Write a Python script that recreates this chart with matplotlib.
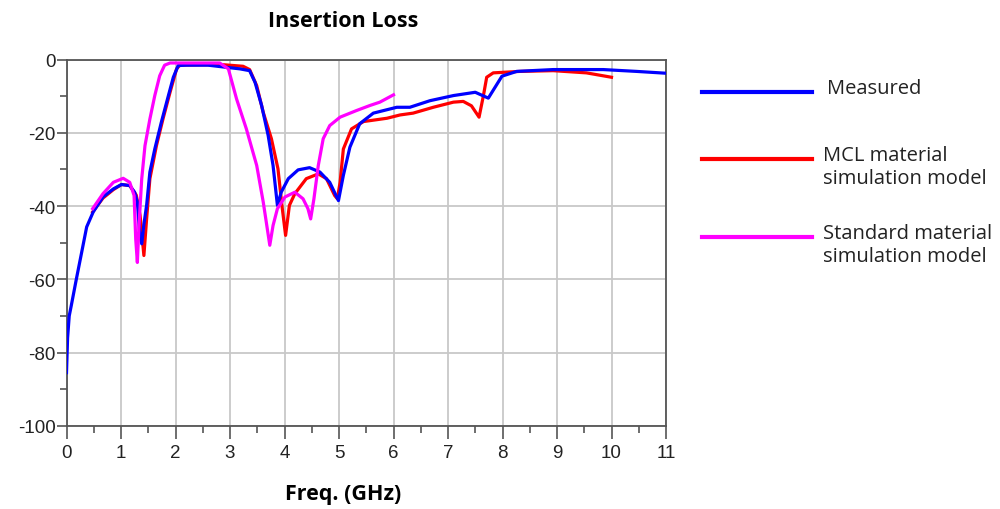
import matplotlib
matplotlib.use('Agg')
import matplotlib.pyplot as plt
from matplotlib.lines import Line2D
from matplotlib.ticker import MultipleLocator

# Measured
meas_freq = [0.0, 0.02, 0.05, 0.09, 0.18, 0.28, 0.37, 0.49, 0.67, 0.86, 1.01,
             1.16, 1.25, 1.30, 1.34, 1.38, 1.42, 1.47, 1.53, 1.62, 1.74, 1.87,
             1.96, 2.05, 2.2, 2.6, 2.94, 3.18, 3.36, 3.46, 3.58, 3.70, 3.79,
             3.87, 3.94, 4.07, 4.25, 4.46, 4.65, 4.83, 4.99, 5.08, 5.20, 5.38,
             5.63, 6.06, 6.30, 6.67, 7.10, 7.50, 7.74, 7.99, 8.26, 8.93, 9.85,
             10.46, 11.0]
meas_db = [-85.5, -76, -70, -67, -60, -52.5, -45.7, -41.6, -37.5, -35.3, -34.1,
           -34.4, -36.2, -38.9, -47, -50.3, -45, -39.8, -30.7, -24.4, -17.1,
           -9.8, -4.8, -1.6, -1.5, -1.5, -2.1, -2.5, -3.0, -6.2, -12.5, -20.7,
           -28.9, -39.8, -36.2, -32.5, -30.1, -29.5, -30.7, -33.5, -38.5,
           -31.6, -23.9, -17.5, -14.6, -13.0, -13.0, -11.2, -9.8, -8.9, -10.5,
           -4.5, -3.2, -2.7, -2.7, -3.2, -3.7]

# MCL material simulation model
mcl_freq = [0.48, 0.67, 0.86, 1.01, 1.16, 1.28, 1.35, 1.42, 1.47, 1.53, 1.65,
            1.77, 1.90, 2.02, 2.08, 2.5, 2.9, 3.24, 3.36, 3.49, 3.61, 3.76,
            3.88, 3.96, 4.02, 4.09, 4.19, 4.40, 4.62, 4.77, 4.92, 4.97, 5.02,
            5.08, 5.23, 5.45, 5.88, 6.12, 6.36, 6.73, 7.10, 7.28, 7.43, 7.57,
            7.65, 7.71, 7.83, 8.32, 8.93, 9.54, 10.0]
mcl_db = [-41.6, -37.8, -35.5, -34.1, -34.4, -37, -42.5, -53.5, -43.5, -32.5,
          -23.5, -16.2, -8.9, -2.5, -1.5, -1.4, -1.4, -1.8, -2.7, -7.1, -14.4,
          -21.6, -29.8, -40.7, -48, -39.8, -36.6, -32.5, -31.2, -32.5, -37.1,
          -38, -33.5, -24.4, -18.9, -16.9, -16.0, -15.1, -14.6, -13.0, -11.6,
          -11.4, -12.6, -15.7, -9.8, -4.8, -3.6, -3.2, -3.0, -3.6, -4.8]

# Standard material simulation model
std_freq = [0.48, 0.67, 0.86, 1.04, 1.16, 1.24, 1.27, 1.30, 1.33, 1.38, 1.44,
            1.53, 1.62, 1.71, 1.80, 1.90, 2.4, 2.81, 2.97, 3.12, 3.30, 3.49,
            3.61, 3.73, 3.79, 3.87, 4.01, 4.19, 4.34, 4.43, 4.48, 4.54, 4.62,
            4.71, 4.83, 5.02, 5.32, 5.57, 5.75, 6.0]
std_db = [-40.7, -36.6, -33.5, -32.4, -33.5, -37.1, -49, -55.4, -45.3, -32.6,
          -23.5, -16.2, -9.8, -4.4, -1.5, -0.9, -0.9, -0.9, -2.5, -10.7, -18.9,
          -28.9, -38.9, -50.7, -45.3, -40.7, -37.5, -36.2, -38.0, -40.7, -43.5,
          -38, -28.9, -21.6, -18, -15.7, -13.9, -12.5, -11.6, -9.6]

series_labels = ['Measured', 'MCL material\nsimulation model',
                 'Standard material\nsimulation model']
series_colors = ['#0000ff', '#ff0000', '#ff00ff']


def main():
    plt.rcParams['font.family'] = 'Liberation Sans'
    plt.rcParams['axes.unicode_minus'] = False

    fig = plt.figure(figsize=(10, 5.1), dpi=100)
    ax = fig.add_axes([0.0665, 0.1633, 0.5995, 0.7177])

    ax.plot(mcl_freq, mcl_db, color=series_colors[1], lw=2.3, zorder=3)
    ax.plot(meas_freq, meas_db, color=series_colors[0], lw=2.3, zorder=4)
    ax.plot(std_freq, std_db, color=series_colors[2], lw=2.3, zorder=5)

    ax.set_xlim(0, 11)
    ax.set_ylim(-100, 0)
    ax.xaxis.set_major_locator(MultipleLocator(1))
    ax.xaxis.set_minor_locator(MultipleLocator(0.5))
    ax.yaxis.set_major_locator(MultipleLocator(20))
    ax.yaxis.set_minor_locator(MultipleLocator(10))
    ax.grid(True, which='major', color='#c8c8c8', lw=1.3)
    ax.set_axisbelow(True)
    for spine in ax.spines.values():
        spine.set_color('#555555')
        spine.set_linewidth(1.3)
    ax.tick_params(which='major', length=7, width=1.2, color='#555555',
                   labelsize=13.5, labelcolor='#222222', pad=1)
    ax.tick_params(which='minor', length=5, width=1.2, color='#555555')
    ax.tick_params(axis='x', which='major', length=9, pad=4)

    fig.text(0.343, 0.957, 'Insertion Loss', ha='center', va='center',
             fontsize=15.5, fontweight='bold', family='Open Sans')
    fig.text(0.343, 0.03, 'Freq. (GHz)', ha='center', va='center',
             fontsize=15.5, fontweight='bold', family='Open Sans')

    # legend drawn by hand to match the layout (handle at first text line)
    legend_y = [93, 160, 238]
    text_x = [827, 823, 823]
    for lab, col, yy, tx in zip(series_labels, series_colors, legend_y,
                                text_x):
        yf = 1 - yy / 510
        fig.add_artist(Line2D([0.702, 0.812], [yf, yf], color=col, lw=3,
                              transform=fig.transFigure))
        fig.text(tx / 1000, yf + 0.028, lab, ha='left', va='top',
                 fontsize=14.5, family='Open Sans', color='#222222',
                 linespacing=1.25)

    fig.savefig('out.png', dpi=100)


if __name__ == '__main__':
    main()
